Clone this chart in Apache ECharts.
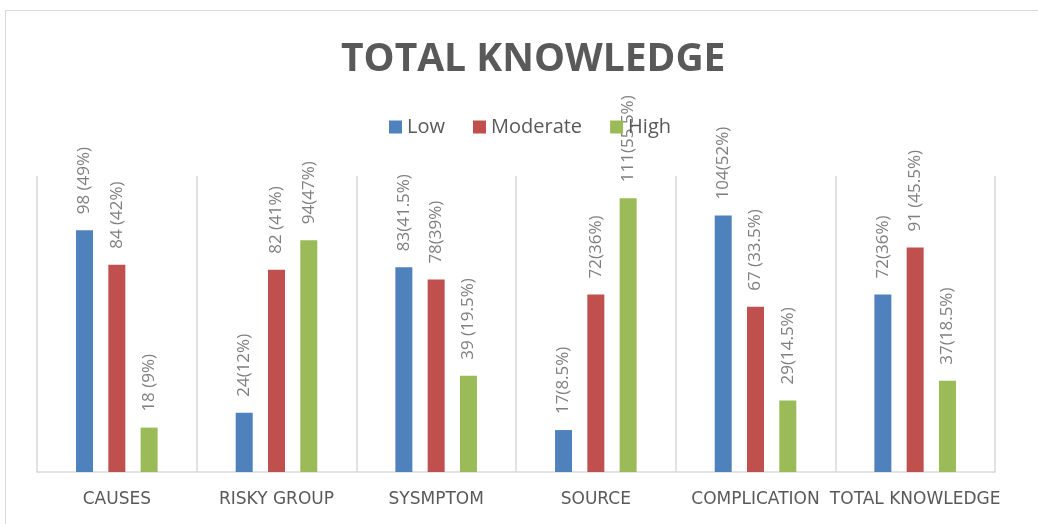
<!DOCTYPE html>
<html>
<head>
<meta charset="utf-8">
<script src="https://cdn.jsdelivr.net/npm/echarts@6/dist/echarts.min.js"></script>
<style>
  body { margin: 0; background: #fff; }
  #chart { position: absolute; left: 0; top: 0; width: 1038px; height: 524px; }
  #frame { position: absolute; left: 5px; top: 10px; width: 1040px; height: 520px;
           border-top: 1px solid #d9d9d9; border-left: 1px solid #d9d9d9; pointer-events: none; }
</style>
</head>
<body>
<div id="chart"></div>
<div id="frame"></div>
<script>
// categories and values
const categories = ['CAUSES', 'RISKY GROUP', 'SYSMPTOM', 'SOURCE', 'COMPLICATION', 'TOTAL KNOWLEDGE'];
const lowValues = [98, 24, 83, 17, 104, 72];
const moderateValues = [84, 82, 78, 72, 67, 91];
const highValues = [18, 94, 39, 111, 29, 37];
const lowLabels = ['98 (49%)', '24(12%)', '83(41.5%)', '17(8.5%)', '104(52%)', '72(36%)'];
const moderateLabels = ['84 (42%)', '82 (41%)', '78(39%)', '72(36%)', '67 (33.5%)', '91 (45.5%)'];
const highLabels = ['18 (9%)', '94(47%)', '39 (19.5%)', '111(55.5%)', '29(14.5%)', '37(18.5%)'];

const myChart = echarts.init(document.getElementById('chart'));

// bar series with rotated labels
function makeSeries(name, color, values, labels) {
  return {
    name: name,
    type: 'bar',
    barWidth: 17,
    barGap: '90%',
    itemStyle: { color: color },
    label: {
      show: true,
      position: 'top',
      rotate: 90,
      align: 'left',
      verticalAlign: 'middle',
      distance: 16,
      color: '#7f7f7f',
      fontSize: 17,
      fontFamily: 'Open Sans',
      formatter: p => labels[p.dataIndex]
    },
    data: values
  };
}

const option = {
  animation: false,
  title: {
    text: 'TOTAL KNOWLEDGE',
    left: 336,
    top: 35,
    textStyle: { color: '#595959', fontSize: 39, fontWeight: 'bold', fontFamily: 'Open Sans' }
  },
  legend: {
    top: 112,
    left: 384,
    icon: 'rect',
    itemWidth: 13,
    itemHeight: 13,
    itemGap: 28,
    textStyle: { color: '#595959', fontSize: 20, fontFamily: 'Open Sans' },
    data: ['Low', 'Moderate', 'High']
  },
  grid: { left: 37, right: 43, top: 176, bottom: 52 },
  xAxis: {
    type: 'category',
    data: categories,
    axisLine: { lineStyle: { color: '#d9d9d9', width: 1.5 } },
    axisTick: { show: false },
    splitLine: { show: true, lineStyle: { color: '#d9d9d9', width: 1.5 } },
    axisLabel: { interval: 0, margin: 19, color: '#595959', fontSize: 17, fontFamily: 'DejaVu Sans' }
  },
  yAxis: {
    type: 'value',
    min: 0,
    max: 120,
    show: false,
    splitLine: { show: false }
  },
  series: [
    makeSeries('Low', '#4f81bd', lowValues, lowLabels),
    makeSeries('Moderate', '#c0504d', moderateValues, moderateLabels),
    makeSeries('High', '#9bbb59', highValues, highLabels)
  ]
};

myChart.setOption(option);
</script>
</body>
</html>
